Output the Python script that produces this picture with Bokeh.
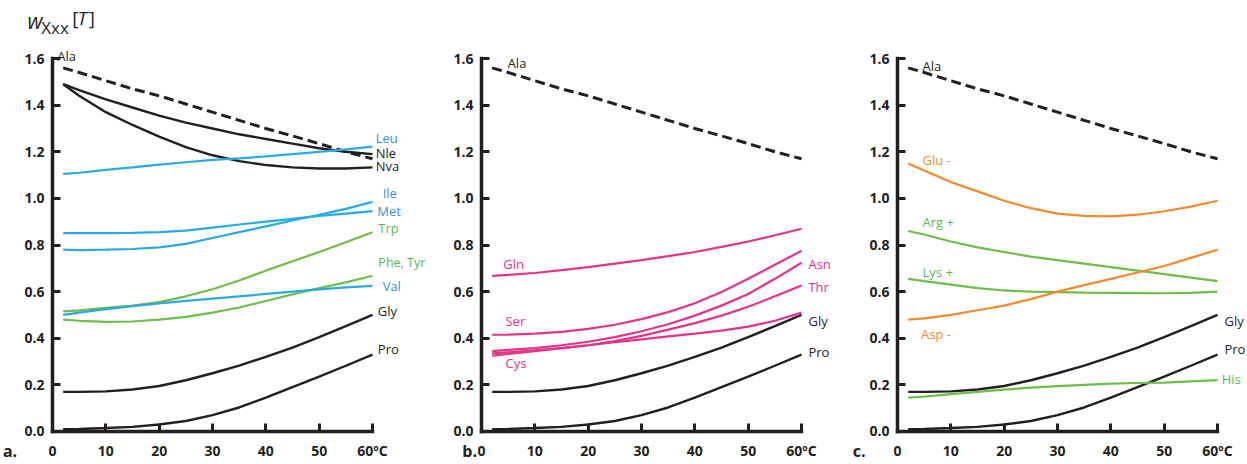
from bokeh.plotting import figure
from bokeh.layouts import row
from bokeh.models import Range1d, FixedTicker, PrintfTickFormatter, Label
from bokeh.embed import file_html
from bokeh.resources import INLINE

# temperature (°C) sample points
temps = [2, 5, 10, 15, 20, 25, 30, 35, 40, 45, 50, 55, 60]

# shared curves
ala = [1.56, 1.54, 1.505, 1.47, 1.44, 1.405, 1.37, 1.335, 1.30, 1.268, 1.235, 1.20, 1.17]
gly = [0.17, 0.17, 0.172, 0.18, 0.195, 0.22, 0.25, 0.283, 0.32, 0.36, 0.405, 0.452, 0.50]
pro = [0.01, 0.011, 0.015, 0.02, 0.03, 0.045, 0.07, 0.103, 0.145, 0.19, 0.235, 0.282, 0.33]

# panel a
nle = [1.49, 1.465, 1.425, 1.39, 1.355, 1.325, 1.30, 1.275, 1.255, 1.235, 1.215, 1.20, 1.19]
nva = [1.49, 1.44, 1.37, 1.315, 1.265, 1.22, 1.185, 1.16, 1.143, 1.133, 1.128, 1.128, 1.133]
leu = [1.105, 1.11, 1.122, 1.133, 1.145, 1.155, 1.165, 1.172, 1.18, 1.19, 1.20, 1.21, 1.222]
ile = [0.78, 0.778, 0.78, 0.783, 0.79, 0.805, 0.83, 0.855, 0.88, 0.905, 0.93, 0.955, 0.985]
met = [0.851, 0.851, 0.851, 0.852, 0.855, 0.862, 0.875, 0.888, 0.90, 0.912, 0.925, 0.935, 0.945]
trp = [0.515, 0.52, 0.53, 0.54, 0.555, 0.58, 0.61, 0.648, 0.69, 0.73, 0.77, 0.812, 0.855]
phe_tyr = [0.48, 0.475, 0.47, 0.472, 0.48, 0.492, 0.51, 0.532, 0.56, 0.588, 0.615, 0.64, 0.668]
val = [0.50, 0.51, 0.525, 0.538, 0.55, 0.56, 0.57, 0.58, 0.59, 0.60, 0.61, 0.618, 0.625]

# panel b
gln = [0.668, 0.672, 0.68, 0.692, 0.705, 0.72, 0.735, 0.752, 0.77, 0.792, 0.815, 0.842, 0.87]
ser = [0.415, 0.416, 0.42, 0.427, 0.44, 0.458, 0.482, 0.512, 0.55, 0.598, 0.655, 0.715, 0.775]
asn = [0.345, 0.35, 0.358, 0.37, 0.385, 0.405, 0.43, 0.46, 0.497, 0.54, 0.59, 0.655, 0.724]
thr = [0.335, 0.34, 0.348, 0.358, 0.37, 0.388, 0.41, 0.437, 0.465, 0.497, 0.535, 0.58, 0.626]
cys = [0.325, 0.333, 0.345, 0.358, 0.37, 0.383, 0.395, 0.408, 0.42, 0.433, 0.45, 0.475, 0.51]

# panel c
glu = [1.15, 1.12, 1.07, 1.03, 0.99, 0.958, 0.935, 0.925, 0.923, 0.93, 0.945, 0.965, 0.99]
arg = [0.86, 0.845, 0.815, 0.79, 0.77, 0.75, 0.735, 0.72, 0.705, 0.69, 0.675, 0.66, 0.645]
lys = [0.655, 0.645, 0.63, 0.615, 0.605, 0.60, 0.598, 0.596, 0.595, 0.594, 0.593, 0.595, 0.60]
asp = [0.48, 0.485, 0.50, 0.52, 0.54, 0.568, 0.60, 0.628, 0.655, 0.682, 0.71, 0.745, 0.78]
his = [0.145, 0.15, 0.16, 0.17, 0.18, 0.188, 0.195, 0.20, 0.205, 0.208, 0.21, 0.215, 0.22]

x_ticks = [0, 10, 20, 30, 40, 50, 60]
x_tick_labels = ["0", "10", "20", "30", "40", "50", "60ºC"]
y_ticks = [0.0, 0.2, 0.4, 0.6, 0.8, 1.0, 1.2, 1.4, 1.6]

BLACK = "#231f20"
BLUE_L = "#2aaae2"
BLUE_T = "#3a8fd6"
GREEN_L = "#6dbe4b"
GREEN_T = "#5cb85c"
PINK = "#e6338a"
ORANGE = "#f48a2c"
FONT = "Open Sans"

H = 462
Y_LO, Y_HI = -0.133, 1.849


def make_panel(width, xl, xr):
    p = figure(width=width, height=H, x_range=Range1d(xl, xr), y_range=Range1d(Y_LO, Y_HI),
               output_backend="svg", toolbar_location=None, min_border=0)
    p.grid.visible = False
    p.outline_line_color = None
    p.background_fill_color = "white"
    for ax in (p.xaxis[0], p.yaxis[0]):
        ax.fixed_location = 0
        ax.axis_line_width = 3.5
        ax.axis_line_color = BLACK
        ax.axis_line_cap = "square"
        ax.major_tick_line_width = 3
        ax.major_tick_line_color = BLACK
        ax.major_tick_in = 8
        ax.major_tick_out = 0
        ax.minor_tick_line_color = None
        ax.major_label_text_font = FONT
        ax.major_label_text_font_size = "14px"
        ax.major_label_text_font_style = "bold"
        ax.major_label_text_color = BLACK
    p.xaxis.bounds = (0, 60)
    p.yaxis.bounds = (0, 1.6)
    p.xaxis.ticker = FixedTicker(ticks=x_ticks)
    p.xaxis.major_label_overrides = {t: s for t, s in zip(x_ticks, x_tick_labels)}
    p.xaxis.major_label_standoff = 10
    p.yaxis.ticker = FixedTicker(ticks=y_ticks)
    p.yaxis.formatter = PrintfTickFormatter(format="%.1f")
    p.yaxis.major_label_standoff = 8
    return p


def curve(p, ys, color, width=2.2):
    p.line(temps, ys, line_color=color, line_width=width)


def lab(p, x, y, text, color, size="13px", style="normal", align="left"):
    p.add_layout(Label(x=x, y=y, text=text, text_color=color, text_font=FONT,
                       text_font_size=size, text_font_style=style,
                       text_baseline="middle", text_align=align))


def common(p, ala_x, ala_y, letter, letter_x):
    p.line(temps, ala, line_color=BLACK, line_width=3, line_dash="10 5")
    curve(p, gly, BLACK, 2.4)
    curve(p, pro, BLACK, 2.4)
    lab(p, ala_x, ala_y, "Ala", BLACK)
    lab(p, letter_x, -0.082, letter, BLACK, size="16px", style="bold")


# ---- panel a  (page x 0..430, y-axis at page x 52)
pa = make_panel(430, -9.75, 70.875)
common(pa, 0.9, 1.613, "a.", -9.3)
curve(pa, nle, BLACK, 2.4)
curve(pa, nva, BLACK, 2.4)
curve(pa, leu, BLUE_L)
curve(pa, ile, BLUE_L)
curve(pa, met, BLUE_L)
curve(pa, trp, GREEN_L)
curve(pa, phe_tyr, GREEN_L)
curve(pa, val, BLUE_L)
lab(pa, 60.6, 1.257, "Leu", BLUE_T)
lab(pa, 60.6, 1.193, "Nle", BLACK)
lab(pa, 60.6, 1.137, "Nva", BLACK)
lab(pa, 61.9, 1.025, "Ile", BLUE_T)
lab(pa, 60.9, 0.944, "Met", BLUE_T)
lab(pa, 61.1, 0.871, "Trp", GREEN_T)
lab(pa, 61.1, 0.725, "Phe, Tyr", GREEN_T, size="12.5px")
lab(pa, 61.9, 0.626, "Val", BLUE_T)
lab(pa, 61.0, 0.519, "Gly", BLACK)
lab(pa, 61.0, 0.356, "Pro", BLACK)
# y-axis title  w_Xxx[T]
pa.add_layout(Label(x=-4.7, y=1.763, text="w", text_font=FONT, text_font_size="21px",
                    text_font_style="italic", text_color=BLACK, text_baseline="middle"))
pa.add_layout(Label(x=-2.1, y=1.735, text="Xxx", text_font=FONT, text_font_size="17px",
                    text_color=BLACK, text_baseline="middle"))
pa.add_layout(Label(x=3.7, y=1.772, text="[", text_font=FONT, text_font_size="19px",
                    text_color=BLACK, text_baseline="middle"))
pa.add_layout(Label(x=4.7, y=1.772, text="T", text_font=FONT, text_font_size="19px",
                    text_font_style="italic", text_color=BLACK, text_baseline="middle"))
pa.add_layout(Label(x=6.8, y=1.772, text="]", text_font=FONT, text_font_size="19px",
                    text_color=BLACK, text_baseline="middle"))

# ---- panel b  (page x 430..840, y-axis at page x 481)
pb = make_panel(410, -9.56, 67.31)
common(pb, 4.9, 1.583, "b.", -3.6)
curve(pb, gln, PINK)
curve(pb, ser, PINK)
curve(pb, asn, PINK)
curve(pb, thr, PINK)
curve(pb, cys, PINK)
lab(pb, 4.1, 0.72, "Gln", PINK)
lab(pb, 4.5, 0.473, "Ser", PINK)
lab(pb, 4.5, 0.292, "Cys", PINK)
lab(pb, 61.3, 0.72, "Asn", PINK)
lab(pb, 61.3, 0.618, "Thr", PINK)
lab(pb, 61.3, 0.476, "Gly", BLACK)
lab(pb, 61.3, 0.339, "Pro", BLACK)

# ---- panel c  (page x 840..1245, y-axis at page x 897)
pc = make_panel(405, -10.69, 65.25)
common(pc, 4.7, 1.57, "c.", -8.4)
curve(pc, glu, ORANGE)
curve(pc, arg, GREEN_L)
curve(pc, lys, GREEN_L)
curve(pc, asp, ORANGE)
curve(pc, his, GREEN_L)
lab(pc, 4.7, 1.163, "Glu -", ORANGE)
lab(pc, 4.7, 0.898, "Arg +", GREEN_T)
lab(pc, 4.7, 0.683, "Lys +", GREEN_T)
lab(pc, 4.4, 0.419, "Asp -", ORANGE)
lab(pc, 61.3, 0.476, "Gly", BLACK)
lab(pc, 61.3, 0.356, "Pro", BLACK)
lab(pc, 60.8, 0.227, "His", GREEN_T)

layout = row(pa, pb, pc)
open("out.html", "w").write(file_html(layout, INLINE))
